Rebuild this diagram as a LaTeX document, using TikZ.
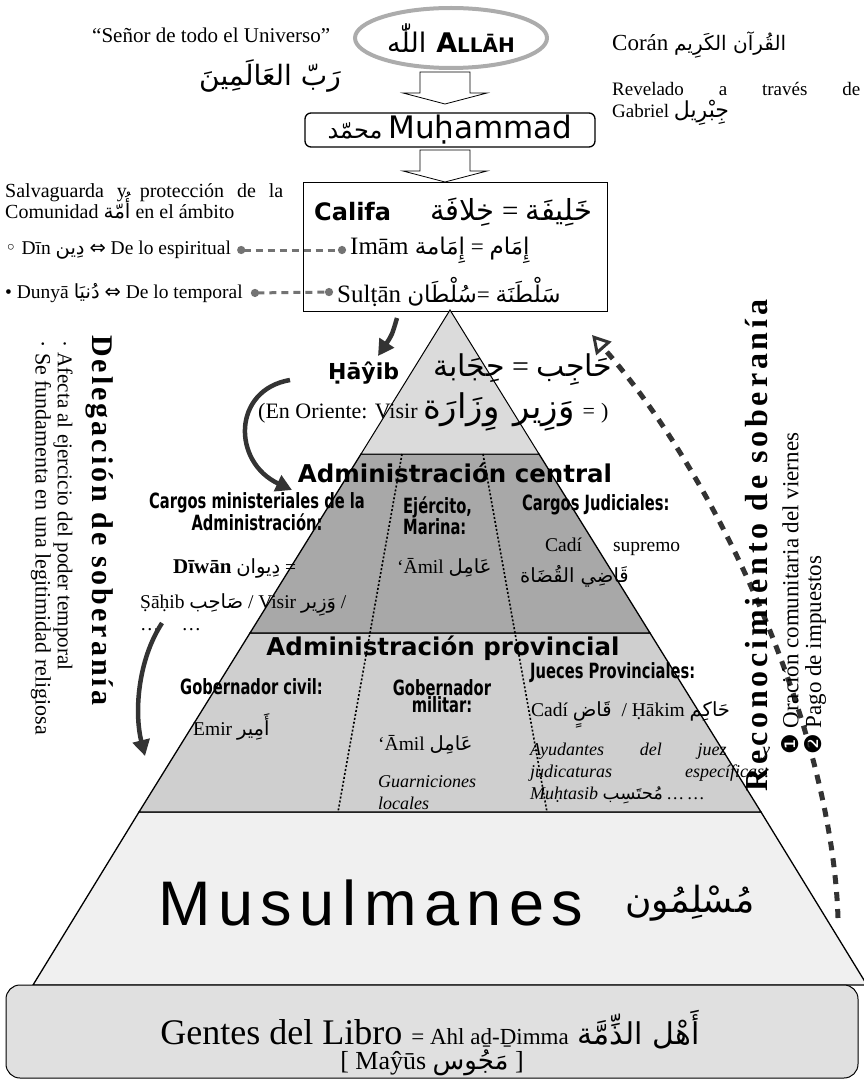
\documentclass[tikz,border=0pt]{standalone}
\usepackage{fontspec}
\setmainfont{Liberation Serif}
\newfontfamily\arabicfont[Script=Arabic]{DejaVu Sans}
\newfontfamily\headfont{DejaVu Sans}
\newfontfamily\condfont[FakeStretch=0.7]{DejaVu Sans}
\newfontfamily\bigsans[LetterSpace=12]{Liberation Sans}
\newfontfamily\titlefont[LetterSpace=10]{Liberation Serif}
\newfontfamily\titlefontb[LetterSpace=12]{Liberation Serif}
\newfontfamily\symfont{DejaVu Sans}
\TeXXeTstate=1
\usetikzlibrary{arrows.meta,positioning,calc,shapes.geometric}
\newcommand{\ar}[1]{{\arabicfont\upshape\mdseries\beginR #1\endR}}
\definecolor{capa1}{gray}{0.86}
\definecolor{capa2}{gray}{0.66}
\definecolor{capa3}{gray}{0.81}
\definecolor{capa4}{gray}{0.94}
\definecolor{capa5}{gray}{0.88}
\definecolor{flecha}{gray}{0.2}
\definecolor{guion}{gray}{0.45}

\begin{document}
\begin{tikzpicture}[x=1pt, y=-1pt,
    txt/.style={inner sep=0pt, font=\fontsize{19.5}{21}\selectfont},
    arab/.style={inner sep=0pt, font=\fontsize{28}{30}\selectfont},
    seccion/.style={inner sep=0pt, font=\headfont\bfseries\fontsize{24.5}{26}\selectfont},
    cargo/.style={inner sep=0pt, font=\condfont\bfseries\fontsize{21}{17}\selectfont},
    bloque/.style={draw, fill=white, line width=0.8pt},
    capa/.style={draw, line width=1.3pt},
    curva/.style={draw=flecha, line width=4.5pt, -{Triangle[length=16pt, width=17pt]}},
    reconoc/.style={draw=flecha, line width=5pt, dash pattern=on 9pt off 8pt,
        -{Triangle[open, length=18pt, width=20pt, line width=3pt]}},
    conector/.style={draw=guion, line width=3pt, dash pattern=on 7pt off 5pt,
        {Circle[length=8pt]}-{Circle[length=8pt]}}
]
\useasboundingbox (0,0) rectangle (863,1083);

% --- cabecera
\node[txt, anchor=west, font=\fontsize{21}{22}\selectfont] (senor) at (92,35) {“Señor de todo el Universo”};
\node[arab] (rabb) at (270,76) {\ar{رَبّ العَالَمِينَ}};
\node[ellipse, draw=gray!65, line width=4pt, minimum width=192, minimum height=60, inner sep=0pt,
      font=\fontsize{27}{28}\selectfont] (allah) at (451,38)
      {\ar{اللّٰه}\hspace{10pt}{\headfont\bfseries A\fontsize{20}{20}\selectfont LLĀH}};
\node[txt, anchor=west, font=\fontsize{23}{24}\selectfont] (coran) at (612,45)
      {Corán {\fontsize{20}{22}\selectfont\ar{القُرآن الكَرِيم}}};
\node[txt, anchor=north west, align=left, font=\fontsize{19}{22}\selectfont] (revelado) at (612,82)
      {\makebox[248pt][s]{Revelado a través de}\\Gabriel \smash{\ar{\fontsize{22}{20}\selectfont جِبْرِيل}}};

\node[draw, rounded corners=6pt, line width=1.3pt, minimum width=290, minimum height=34, inner sep=0pt,
      font=\fontsize{24}{26}\selectfont] (muhammad) at (450,130)
      {\ar{محمّد}\ {\headfont\fontsize{31}{32}\selectfont Muḥammad}};

\foreach \y in {72,150}
    \draw[bloque] (420,\y) -- (470,\y) -- (470,\y+21) -- (487,\y+21) -- (445,\y+32)
        -- (403,\y+21) -- (420,\y+21) -- cycle;

% --- califa
\node[draw, fill=white, line width=1pt, minimum width=304, minimum height=128] (califa) at (455,247) {};
\node[inner sep=0pt, anchor=west, font=\headfont\bfseries\fontsize{24}{26}\selectfont] (califatxt) at (314,212) {Califa};
\node[arab, anchor=west, font=\fontsize{29}{30}\selectfont] (jilafa) at (430,212) {\ar{خِلافَة} = \ar{خَلِيفَة}};
\node[txt, anchor=west, font=\fontsize{25}{26}\selectfont] (imam) at (350,250)
      {Imām {\fontsize{23}{24}\selectfont\ar{إِمَامة} = \ar{إِمَام}}};
\node[txt, anchor=west, font=\fontsize{25}{26}\selectfont] (sultan) at (337,292)
      {Sulṭān {\fontsize{23}{24}\selectfont\ar{سُلْطَان}= \ar{سَلْطَنَة}}};

\node[txt, anchor=north west, align=left, font=\fontsize{20}{21}\selectfont] (salva) at (5,183)
      {\makebox[278pt][s]{Salvaguarda y protección de la}\\Comunidad \smash{\ar{أُمّة}} en el ámbito};
\node[txt, anchor=west] (din) at (5,250) {{\symfont ◦} Dīn \ar{دِين}\ {\symfont ⇔} De lo espiritual};
\node[txt, anchor=west] (dunya) at (5,293) {• Dunyā \ar{دُنيَا} {\symfont ⇔} De lo temporal};
\draw[conector] ([xshift=6pt]din.east) -- ([xshift=-4pt]imam.west);
\draw[conector] ([xshift=8pt]dunya.east) -- ([xshift=-4pt]sultan.west);

% --- piramide
\coordinate (cima) at (450,310);
\filldraw[capa, fill=capa4] (139,812) -- (761,812) -- (867,985) -- (33,985) -- cycle;
\filldraw[capa, fill=capa3] (250,633) -- (650,633) -- (761,812) -- (139,812) -- cycle;
\filldraw[capa, fill=capa2] (361,454) -- (539,454) -- (650,633) -- (250,633) -- cycle;
\filldraw[capa, fill=capa1, line width=1pt] (cima) -- (539,454) -- (361,454) -- cycle;
\draw[line width=1.6pt, dash pattern=on 2pt off 2pt] (402,454) -- (338,812);
\draw[line width=1.6pt, dash pattern=on 2pt off 2pt] (483,454) -- (547,812);

\node[inner sep=0pt, anchor=west, font=\headfont\bfseries\fontsize{22}{24}\selectfont] (hayib) at (328,373) {Ḥāŷib};
\node[arab, anchor=west, font=\fontsize{30}{32}\selectfont] (hiyaba) at (433,370) {\ar{حِجَابة} = \ar{حَاجِب}};
\node[txt, anchor=west, font=\fontsize{22}{24}\selectfont] (oriente) at (258,413)
      {(En Oriente: Visir \smash{\fontsize{34}{30}\selectfont\ar{وِزَارَة}\hspace{14pt}\ar{وَزِير}}\hspace{8pt}=\hspace{6pt})};

\node[seccion] (central) at (455,473) {Administración central};
\node[cargo, align=center] (ministros) at (257,512) {Cargos ministeriales de la\\Administración:};
\node[cargo, align=left, anchor=north west] (ejercito) at (403,496) {Ejército,\\Marina:};
\node[cargo, anchor=west] (judiciales) at (522,505) {Cargos Judiciales:};
\node[txt, anchor=west] (diwan) at (173,568) {{\fontsize{21}{22}\selectfont\bfseries Dīwān} \ar{دِيوان} =};
\node[txt, anchor=west] (sahib) at (140,605) {Ṣāḥib \ar{صَاحِب} / Visir \ar{وَزِير} /};
\node[txt, anchor=west] (puntos) at (140,630) {\dots\hspace{22pt}\dots};
\node[txt, anchor=west] (amil) at (397,568) {‘Āmil \ar{عَامِل}};
\node[txt, anchor=west] (cadisup) at (545,547) {\makebox[135pt][s]{Cadí supremo}};
\node[txt, anchor=west] (qadi) at (520,576) {\ar{قَاضِي القُضَاة}};

\node[seccion] (provincial) at (443,648) {Administración provincial};
\node[cargo, anchor=west] (gobcivil) at (180,687) {Gobernador civil:};
\node[cargo, align=center] (gobmil) at (442,696) {Gobernador\\militar:};
\node[cargo, anchor=west] (jueces) at (530,673) {Jueces Provinciales:};
\node[txt, anchor=west] (emir) at (193,727) {Emir \ar{أَمِير}};
\node[txt, anchor=west] (amilprov) at (378,745) {‘Āmil \ar{عَامِل}};
\node[txt, anchor=north west, align=left, font=\itshape\fontsize{18}{22}\selectfont] (guarn) at (378,775) {Guarniciones\\locales};
\node[txt, anchor=west] (cadi) at (531,715) {Cadí \ar{قَاضٍ}\ \ /\ Ḥākim \ar{حَاكِم}};
\node[txt, anchor=north west, align=left, font=\itshape\fontsize{18}{22}\selectfont] (ayudantes) at (530,743)
      {\makebox[240pt][s]{Ayudantes del juez y}\\\makebox[240pt][s]{judicaturas específicas:}\\Muḥtasib \ar{مُحتَسِب} \dots\ \dots};

\node[inner sep=0pt, anchor=west, font=\bigsans\fontsize{63}{64}\selectfont] (musulmanes) at (158,903) {Musulmanes};
\node[inner sep=0pt, anchor=west, font=\fontsize{36}{38}\selectfont] (muslimun) at (625,903) {\ar{مُسْلِمُون}};

% --- gentes del libro
\node[draw, rounded corners=14pt, line width=1pt, fill=capa5, minimum width=852, minimum height=93] (gentes) at (432,1031.5) {};
\node[inner sep=0pt, font=\fontsize{36}{38}\selectfont] (ahl) at (430,1030)
      {Gentes del Libro {\fontsize{23}{24}\selectfont = Ahl aḏ-Ḏimma} {\fontsize{30}{30}\selectfont\ar{أَهْل الذِّمَّة}}};
\node[inner sep=0pt, font=\fontsize{26}{28}\selectfont] (mayus) at (432,1063) {[ Maŷūs \ar{مَجُوس} ]};

% --- flechas
\draw[curva] (397,318) .. controls (392,335) .. (378,356);
\draw[curva] (290,380) .. controls (232,390) and (232,462) .. (292,490);
\draw[curva] (162,623) .. controls (138,660) and (134,712) .. (145,756);
\coordinate (base) at (838,918);
\coordinate (vertice) at (592,335);
\draw[reconoc] (base) .. controls (832,730) and (720,480) .. (vertice);

% --- textos verticales
\node[inner sep=0pt, font=\titlefont\bfseries\fontsize{30}{32}\selectfont, rotate=-90, anchor=west] (delegacion) at (100,335) {Delegación de soberanía};
\node[txt, font=\fontsize{21}{22}\selectfont, rotate=-90, anchor=west] (afecta) at (63,340) {· Afecta al ejercicio del poder temporal};
\node[txt, font=\fontsize{22}{23}\selectfont, rotate=-90, anchor=west] (fundamenta) at (41,340) {· Se fundamenta en una legitimidad religiosa};
\node[inner sep=0pt, font=\titlefontb\bfseries\fontsize{32}{34}\selectfont, rotate=90, anchor=west] (reconocimiento) at (757,792) {Reconocimiento de soberanía};
\node[txt, font=\fontsize{23}{24}\selectfont, rotate=90, anchor=west] (oracion) at (790,755) {{\symfont ❶} Oración comunitaria del viernes};
\node[txt, font=\fontsize{23}{24}\selectfont, rotate=90, anchor=west] (pago) at (815,755) {{\symfont ❷} Pago de impuestos};
\end{tikzpicture}
\end{document}
